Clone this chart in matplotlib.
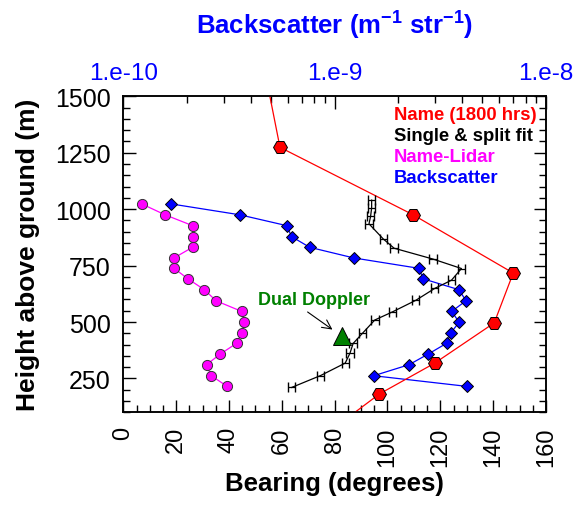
import matplotlib
matplotlib.use('Agg')
import matplotlib.pyplot as plt
from matplotlib.ticker import MultipleLocator, LogLocator, NullFormatter

plt.rcParams['font.family'] = ['Liberation Sans', 'DejaVu Sans']
plt.rcParams['mathtext.fontset'] = 'custom'
plt.rcParams['mathtext.rm'] = 'Liberation Sans'
plt.rcParams['mathtext.bf'] = 'Liberation Sans:bold'

# Name radar profile at 1800 hrs (first and last points fall outside the plotted range)
name_bearing = [52.1, 59.3, 109.7, 147.6, 140.4, 117.9, 96.9, 82.0]
name_height = [1700, 1274, 975, 717, 496, 318, 181, 50]

# single & split fit with bearing uncertainty
fit_bearing = [63.7, 74.7, 84.0, 85.8, 87.0, 90.6, 95.2, 101.9, 110.7, 117.9,
               124.2, 128.0, 117.2, 102.5, 98.4, 93.0, 93.6, 94.0, 94.0]
fit_height = [210, 263, 318, 362, 405, 451, 509, 545, 596, 649,
              685, 737, 779, 827, 868, 935, 968, 1005, 1040]
fit_err = [1.4, 1.4, 1.4, 1.4, 1.4, 1.4, 1.4, 1.4, 1.4, 1.4,
           1.4, 1.4, 1.4, 1.4, 1.4, 1.4, 1.4, 1.4, 1.4]

# lidar range gates
gate_height = [1023, 975, 927, 878, 831, 784, 738, 691, 643,
               594, 547, 499, 451, 406, 358, 311, 262, 215]
lidar_bearing = [7.0, 15.8, 26.2, 26.2, 26.2, 19.2, 19.2, 24.5, 30.7,
                 35.1, 44.8, 45.6, 44.8, 42.9, 36.7, 31.5, 33.3, 39.3]
backscatter = [1.69e-10, 3.56e-10, 5.93e-10, 6.26e-10, 7.62e-10, 1.23e-9,
               2.50e-9, 2.63e-9, 3.88e-9, 4.18e-9, 3.58e-9, 3.88e-9,
               3.54e-9, 3.39e-9, 2.77e-9, 2.25e-9, 1.53e-9, 4.21e-9]

dd_bearing = 82.6
dd_height = 438

fig = plt.figure(figsize=(5.76, 5.06), dpi=100, facecolor='white')
ax = fig.add_subplot()
fig.subplots_adjust(left=0.2141, right=0.9479, bottom=0.1832, top=0.8077)
ax2 = ax.twiny()

# backscatter on the log axis along the top
ax2.plot(backscatter, gate_height, color='blue', lw=0.9, marker='D', ms=5.8,
         mfc='blue', mec='black', mew=0.7)
ax2.set_xscale('log')
ax2.set_xlim(1e-10, 1e-8)
ax2.set_xticks([1e-10, 1e-9, 1e-8], labels=['1.e-10', '1.e-9', '1.e-8'])
ax2.xaxis.set_minor_locator(LogLocator(base=10, subs=range(2, 10)))
ax2.xaxis.set_minor_formatter(NullFormatter())
ax2.tick_params(axis='x', which='both', direction='in', labelsize=17.5,
                labelcolor='blue', pad=9)
ax2.tick_params(axis='x', which='major', length=9, width=1)
ax2.tick_params(axis='x', which='minor', length=5, width=1)

ax.set_zorder(ax2.get_zorder() + 1)
ax.patch.set_visible(False)

ax.plot(name_bearing, name_height, color='red', lw=0.9, marker='H', ms=10,
        mfc='red', mec='black', mew=0.7)
ax.errorbar(fit_bearing, fit_height, xerr=fit_err, color='black', lw=0.9,
            elinewidth=0.9, capsize=3.5, capthick=1.0)
ax.plot(lidar_bearing, gate_height, color='magenta', lw=0.9, marker='o', ms=7.3,
        mfc='magenta', mec='#333333', mew=0.7)
ax.plot(dd_bearing, dd_height, marker='^', ms=12.5, color='green', mec='black',
        mew=0.7, linestyle='none')
ax.annotate('Dual Doppler', xy=(dd_bearing, dd_height), xytext=(-20, 26),
            textcoords='offset points', ha='center', va='center',
            color='green', fontsize=13, fontweight='bold',
            arrowprops=dict(arrowstyle='->,head_length=0.5,head_width=0.25',
                            color='black', lw=0.8, relpos=(0.4, 0.0),
                            shrinkA=1, shrinkB=8))

ax.set_xlim(0, 160)
ax.set_ylim(100, 1500)
ax.xaxis.set_major_locator(MultipleLocator(20))
ax.xaxis.set_minor_locator(MultipleLocator(5))
ax.yaxis.set_major_locator(MultipleLocator(250))
ax.yaxis.set_minor_locator(MultipleLocator(50))
ax.tick_params(which='both', direction='in', top=False, right=True, width=1)
ax.tick_params(which='major', length=9)
ax.tick_params(which='minor', length=5)
ax.tick_params(axis='x', labelsize=17, labelrotation=90, pad=10)
ax.tick_params(axis='y', labelsize=18, pad=9)

for a in (ax, ax2):
    for s in a.spines.values():
        s.set_linewidth(1.1)

ax.set_xlabel('Bearing (degrees)', fontsize=18.5, fontweight='bold', labelpad=4)
ax.set_ylabel('Height above ground (m)', fontsize=19, fontweight='bold', labelpad=11)
fig.text(0.5812, 0.951, r'Backscatter (m$^{\mathbf{-1}}$ str$^{\mathbf{-1}}$)',
         ha='center', va='center', color='blue', fontsize=18.5, fontweight='bold')

# text-only legend
legend_items = [('Name (1800 hrs)', 'red'), ('Single & split fit', 'black'),
                ('Name-Lidar', 'magenta'), ('Backscatter', 'blue')]
for i, (txt, col) in enumerate(legend_items):
    ax.text(0.640, 0.942 - i * 0.0665, txt, transform=ax.transAxes, ha='left',
            va='center', color=col, fontsize=13.3, fontweight='bold')

fig.savefig('out.png', dpi=100)
